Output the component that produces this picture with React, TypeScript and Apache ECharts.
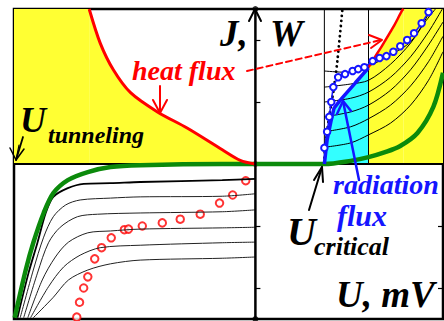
import React, { useEffect, useRef } from 'react';
import * as echarts from 'echarts';

// Axis extents (U in mV, J/W in arbitrary units)
const X_MIN = -3.5;
const X_MAX = 2.72;
const Y_MIN = -2.5;
const Y_MAX = 2.5;
const X_TICKS = [-3, -2, -1, 1, 2];
const Y_TICKS = [-2, -1, 1, 2];

// Full I-V curve (thick green)
const greenCurve = [
  [-3.49, -2.48], [-3.33, -1.71], [-3.22, -1.27], [-3.07, -0.79], [-2.93, -0.47],
  [-2.72, -0.26], [-2.43, -0.13], [-2.1, -0.05], [-1.67, -0.02], [-0.48, 0], [0, 0],
  [1.0, 0], [1.38, 0.05], [1.64, 0.11], [1.88, 0.19], [2.1, 0.29], [2.35, 0.5],
  [2.58, 0.92], [2.72, 1.47],
];

// Lower-left family of I-V curves
const ivBlack = [
  [-3.45, -2.48], [-3.29, -1.76], [-3.16, -1.27], [-3.04, -0.79], [-2.93, -0.53],
  [-2.72, -0.39], [-2.49, -0.32], [-2.1, -0.31], [-1.67, -0.29], [-0.48, -0.26], [0, -0.24],
];
const iv1 = [
  [-3.41, -2.48], [-3.22, -1.71], [-3.07, -1.18], [-2.93, -0.85], [-2.75, -0.66],
  [-2.54, -0.58], [-2.1, -0.55], [-1.67, -0.53], [-0.48, -0.52], [0, -0.48],
];
const iv2 = [
  [-3.36, -2.48], [-3.16, -1.76], [-3.0, -1.27], [-2.83, -1.02], [-2.58, -0.85],
  [-2.29, -0.81], [-1.67, -0.79], [-0.48, -0.77], [0, -0.74],
];
const iv3 = [
  [-3.3, -2.48], [-3.09, -1.87], [-2.9, -1.5], [-2.71, -1.26], [-2.43, -1.11],
  [-2.1, -1.08], [-1.67, -1.05], [-0.48, -1.03], [0, -1.02],
];
const iv4 = [
  [-3.26, -2.48], [-3.0, -1.98], [-2.78, -1.66], [-2.54, -1.47], [-2.25, -1.35],
  [-1.67, -1.31], [-0.48, -1.27], [0, -1.26],
];
const iv5 = [
  [-3.22, -2.48], [-2.93, -2.15], [-2.71, -1.87], [-2.43, -1.71], [-2.1, -1.61],
  [-1.67, -1.55], [-0.48, -1.52], [0, -1.5],
];

// Upper-right family
const w0 = [[1.0, 1.5], [1.3, 1.48], [1.64, 1.58], [1.96, 1.76], [2.25, 1.97], [2.46, 2.32], [2.54, 2.5]];
const w1 = [[1.0, 1.24], [1.38, 1.29], [1.64, 1.35], [1.96, 1.61], [2.25, 1.95], [2.46, 2.29], [2.61, 2.5]];
const w2 = [[1.0, 1.0], [1.38, 1.06], [1.64, 1.16], [1.96, 1.4], [2.25, 1.73], [2.51, 2.13], [2.71, 2.5]];
const w3 = [[1.0, 0.76], [1.38, 0.84], [1.64, 0.95], [1.96, 1.19], [2.25, 1.52], [2.51, 1.92], [2.72, 2.29]];
const w4 = [[1.0, 0.52], [1.38, 0.6], [1.64, 0.73], [1.96, 0.95], [2.25, 1.26], [2.51, 1.65], [2.72, 2.06]];
const w5 = [[1.0, 0.27], [1.38, 0.34], [1.64, 0.47], [1.96, 0.66], [2.25, 0.95], [2.51, 1.35], [2.72, 1.81]];

// Heat flux boundaries
const heatLeft = [
  [-2.41, 2.5], [-2.25, 1.95], [-2.06, 1.52], [-1.81, 1.15], [-1.42, 0.84],
  [-0.99, 0.58], [-0.48, 0.23], [-0.22, 0.06], [0, 0],
];
const heatLeftBand = [[X_MIN, 2.5], [-2.41, 2.5]];
const heatRight = [[1.64, 1.56], [1.77, 1.79], [1.86, 1.95], [2.0, 2.21], [2.13, 2.48], [2.15, 2.5]];
const heatRightBand = [[2.15, 2.5], [X_MAX, 2.5]];

// Radiation flux boundary
const radiation = [[1.0, 0], [1.04, 0.39], [1.1, 0.71], [1.14, 0.9], [1.23, 1.03], [1.45, 1.31], [1.64, 1.55]];

// Critical line (dotted)
const criticalDots = [[1.0, 0.02], [1.01, 0.26], [1.07, 0.76], [1.14, 1.24], [1.19, 1.68], [1.26, 2.48]];

// Vertical guides
const guideA = [[1.0, 0], [1.0, 2.5]];
const guideB = [[1.64, 0], [1.64, 2.5]];

// Measured points
const bluePoints = [
  [1.0, 0.26], [1.04, 0.52], [1.07, 0.76], [1.1, 1.0], [1.13, 1.24], [1.2, 1.4], [1.3, 1.45],
  [1.41, 1.5], [1.49, 1.53], [1.58, 1.56], [1.7, 1.66], [1.8, 1.71], [1.9, 1.74], [2.0, 1.81],
  [2.1, 1.9], [2.2, 2.0], [2.3, 2.11], [2.41, 2.27], [2.51, 2.45],
];
const redPoints = [
  [-2.59, -2.47], [-2.55, -2.23], [-2.49, -2.0], [-2.43, -1.82], [-2.33, -1.53], [-2.23, -1.35],
  [-2.09, -1.19], [-1.9, -1.06], [-1.84, -1.05], [-1.64, -1.0], [-1.35, -0.95], [-1.09, -0.89],
  [-0.8, -0.81], [-0.52, -0.63], [-0.33, -0.5], [-0.14, -0.27],
];

const axisH = [[X_MIN, 0], [X_MAX, 0]];
const axisV = [[0, Y_MIN], [0, Y_MAX]];
const axisEnds = [[0, Y_MAX], [0, Y_MIN]];

const FONT = '"Liberation Serif", "Times New Roman", serif';
const YELLOW = '#ffff33';
const CYAN = '#33ffff';
const RED = '#ff0000';
const BLUE = '#1515ff';
const GREEN = '#0b8a0b';

const fill = (data: number[][], color: string, smooth: number | boolean) => ({
  type: 'line', data, symbol: 'none', smooth, silent: true,
  lineStyle: { width: 0, opacity: 0 },
  areaStyle: { color, opacity: 1 },
});
const curve = (data: number[][], color: string, width: number, smooth: number | boolean = 0.3, extra: any = {}) => ({
  type: 'line', data, symbol: 'none', smooth, silent: true,
  lineStyle: { color, width, ...(extra.lineStyle || {}) },
});

const txt = (text: string, x: number, y: number, size: number, color: string) => ({
  type: 'text', x, y, z: 200,
  style: { text, x: 0, y: 0, fill: color, font: `italic bold ${size}px ${FONT}`, textAlign: 'left', verticalAlign: 'middle' },
});
const pl = (points: number[][], color: string, width: number, dash?: number[]) => ({
  type: 'polyline', z: 200, shape: { points },
  style: { stroke: color, lineWidth: width, fill: 'none', lineDash: dash, lineCap: 'round', lineJoin: 'round' },
});

export default function App() {
  const ref = useRef<HTMLDivElement>(null);
  useEffect(() => {
    const chart = echarts.init(ref.current!, null, { renderer: 'svg' });
    const option: any = {
      animation: false,
      backgroundColor: '#fff',
      grid: { left: 14, right: 1, top: 9, bottom: 2, show: true, borderColor: '#000', borderWidth: 2.5, backgroundColor: '#fff', z: 0 },
      xAxis: {
        type: 'value', min: X_MIN, max: X_MAX,
        axisLine: { show: false },
        axisTick: { show: true, inside: true, length: 5, customValues: X_TICKS, lineStyle: { color: '#000', width: 1.5 } },
        axisLabel: { show: false }, splitLine: { show: false },
      },
      yAxis: [
        {
          type: 'value', min: Y_MIN, max: Y_MAX, position: 'left',
          axisLine: { show: false },
          axisTick: { show: true, inside: true, length: 5, customValues: Y_TICKS, lineStyle: { color: '#000', width: 1.2 } },
          axisLabel: { show: false }, splitLine: { show: false },
        },
        {
          type: 'value', min: Y_MIN, max: Y_MAX, position: 'right',
          axisLine: { show: false },
          axisTick: { show: true, inside: true, length: 5, customValues: Y_TICKS, lineStyle: { color: '#000', width: 1.2 } },
          axisLabel: { show: false }, splitLine: { show: false },
        },
      ],
      series: [
        fill(heatLeftBand, YELLOW, false),
        fill(heatLeft, YELLOW, 0.3),
        fill(heatRightBand, YELLOW, false),
        fill(heatRight, YELLOW, 0.3),
        fill(radiation, CYAN, false),
        curve(guideA, '#000', 1, false),
        curve(guideB, '#000', 1, false),
        curve(axisH, '#000', 2, false),
        curve(iv5, '#222', 1),
        curve(iv4, '#222', 1),
        curve(iv3, '#222', 1),
        curve(iv2, '#222', 1),
        curve(iv1, '#222', 1),
        curve(ivBlack, '#000', 1.8),
        curve(w5, '#000', 1),
        curve(w4, '#000', 1),
        curve(w3, '#000', 1),
        curve(w2, '#000', 1),
        curve(w1, '#000', 1),
        curve(w0, '#000', 1),
        curve(criticalDots, '#000', 2.8, 0.3, { lineStyle: { type: [0.1, 5], cap: 'round' } }),
        curve(greenCurve, GREEN, 4.5, 0.3),
        curve(heatLeft, RED, 3, 0.3),
        curve(heatRight, RED, 2.5, 0.3),
        curve(radiation, BLUE, 3.5, false),
        {
          type: 'line', data: bluePoints, smooth: 0.2, silent: true,
          symbol: 'emptyCircle', symbolSize: 6.5,
          lineStyle: { color: BLUE, width: 1.5 },
          itemStyle: { color: BLUE, borderColor: BLUE, borderWidth: 2.2 },
        },
        {
          type: 'scatter', data: redPoints, silent: true,
          symbol: 'emptyCircle', symbolSize: 7.5,
          itemStyle: { color: RED, borderColor: RED, borderWidth: 2.2 },
        },
        curve(axisV, '#000', 2.5, false),
        {
          type: 'scatter', data: [[0, 0]], silent: true, symbol: 'circle', symbolSize: 6,
          itemStyle: { color: RED },
        },
        {
          type: 'scatter', data: axisEnds, silent: true, symbol: 'circle', symbolSize: 6,
          itemStyle: { color: '#000' },
        },
      ],
      graphic: [
        pl([[249, 21], [255, 9], [261, 21]], '#000', 2),
        // heat flux arrows
        pl([[160, 86], [160, 112]], RED, 2),
        pl([[153, 100], [160, 113], [167, 100]], RED, 2),
        pl([[247, 71], [381, 40]], RED, 2, [6, 4]),
        pl([[369, 35], [382, 40], [371, 48]], RED, 2),
        // U tunneling arrow
        pl([[23, 137], [16, 160]], '#000', 1.8),
        pl([[10, 148], [16, 160], [24, 149]], '#000', 1.5),
        pl([[19, 145], [16, 160]], '#000', 1.2),
        // U critical arrow
        pl([[309, 210], [322, 167]], '#000', 2),
        pl([[314, 180], [322, 167], [323, 182]], '#000', 2),
        // radiation arrow
        pl([[359, 180], [343, 101]], BLUE, 2.5),
        pl([[337, 114], [343, 101], [351, 111]], BLUE, 2.5),
        txt('J,', 220, 33, 37, '#000'),
        txt('W', 270, 33, 37, '#000'),
        txt('heat flux', 132, 70, 28, RED),
        txt('U', 20, 120, 36, '#000'),
        txt('tunneling', 48, 135, 24, '#000'),
        txt('radiation', 333, 184, 28, BLUE),
        txt('flux', 337, 215, 30, BLUE),
        txt('U', 287, 231, 40, '#000'),
        txt('critical', 314, 246, 26, '#000'),
        txt('U, mV', 336, 294, 37, '#000'),
      ],
    };
    chart.setOption(option);
    return () => chart.dispose();
  }, []);
  return <div ref={ref} style={{ position: 'fixed', left: 0, top: 0, width: 444, height: 321 }} />;
}
